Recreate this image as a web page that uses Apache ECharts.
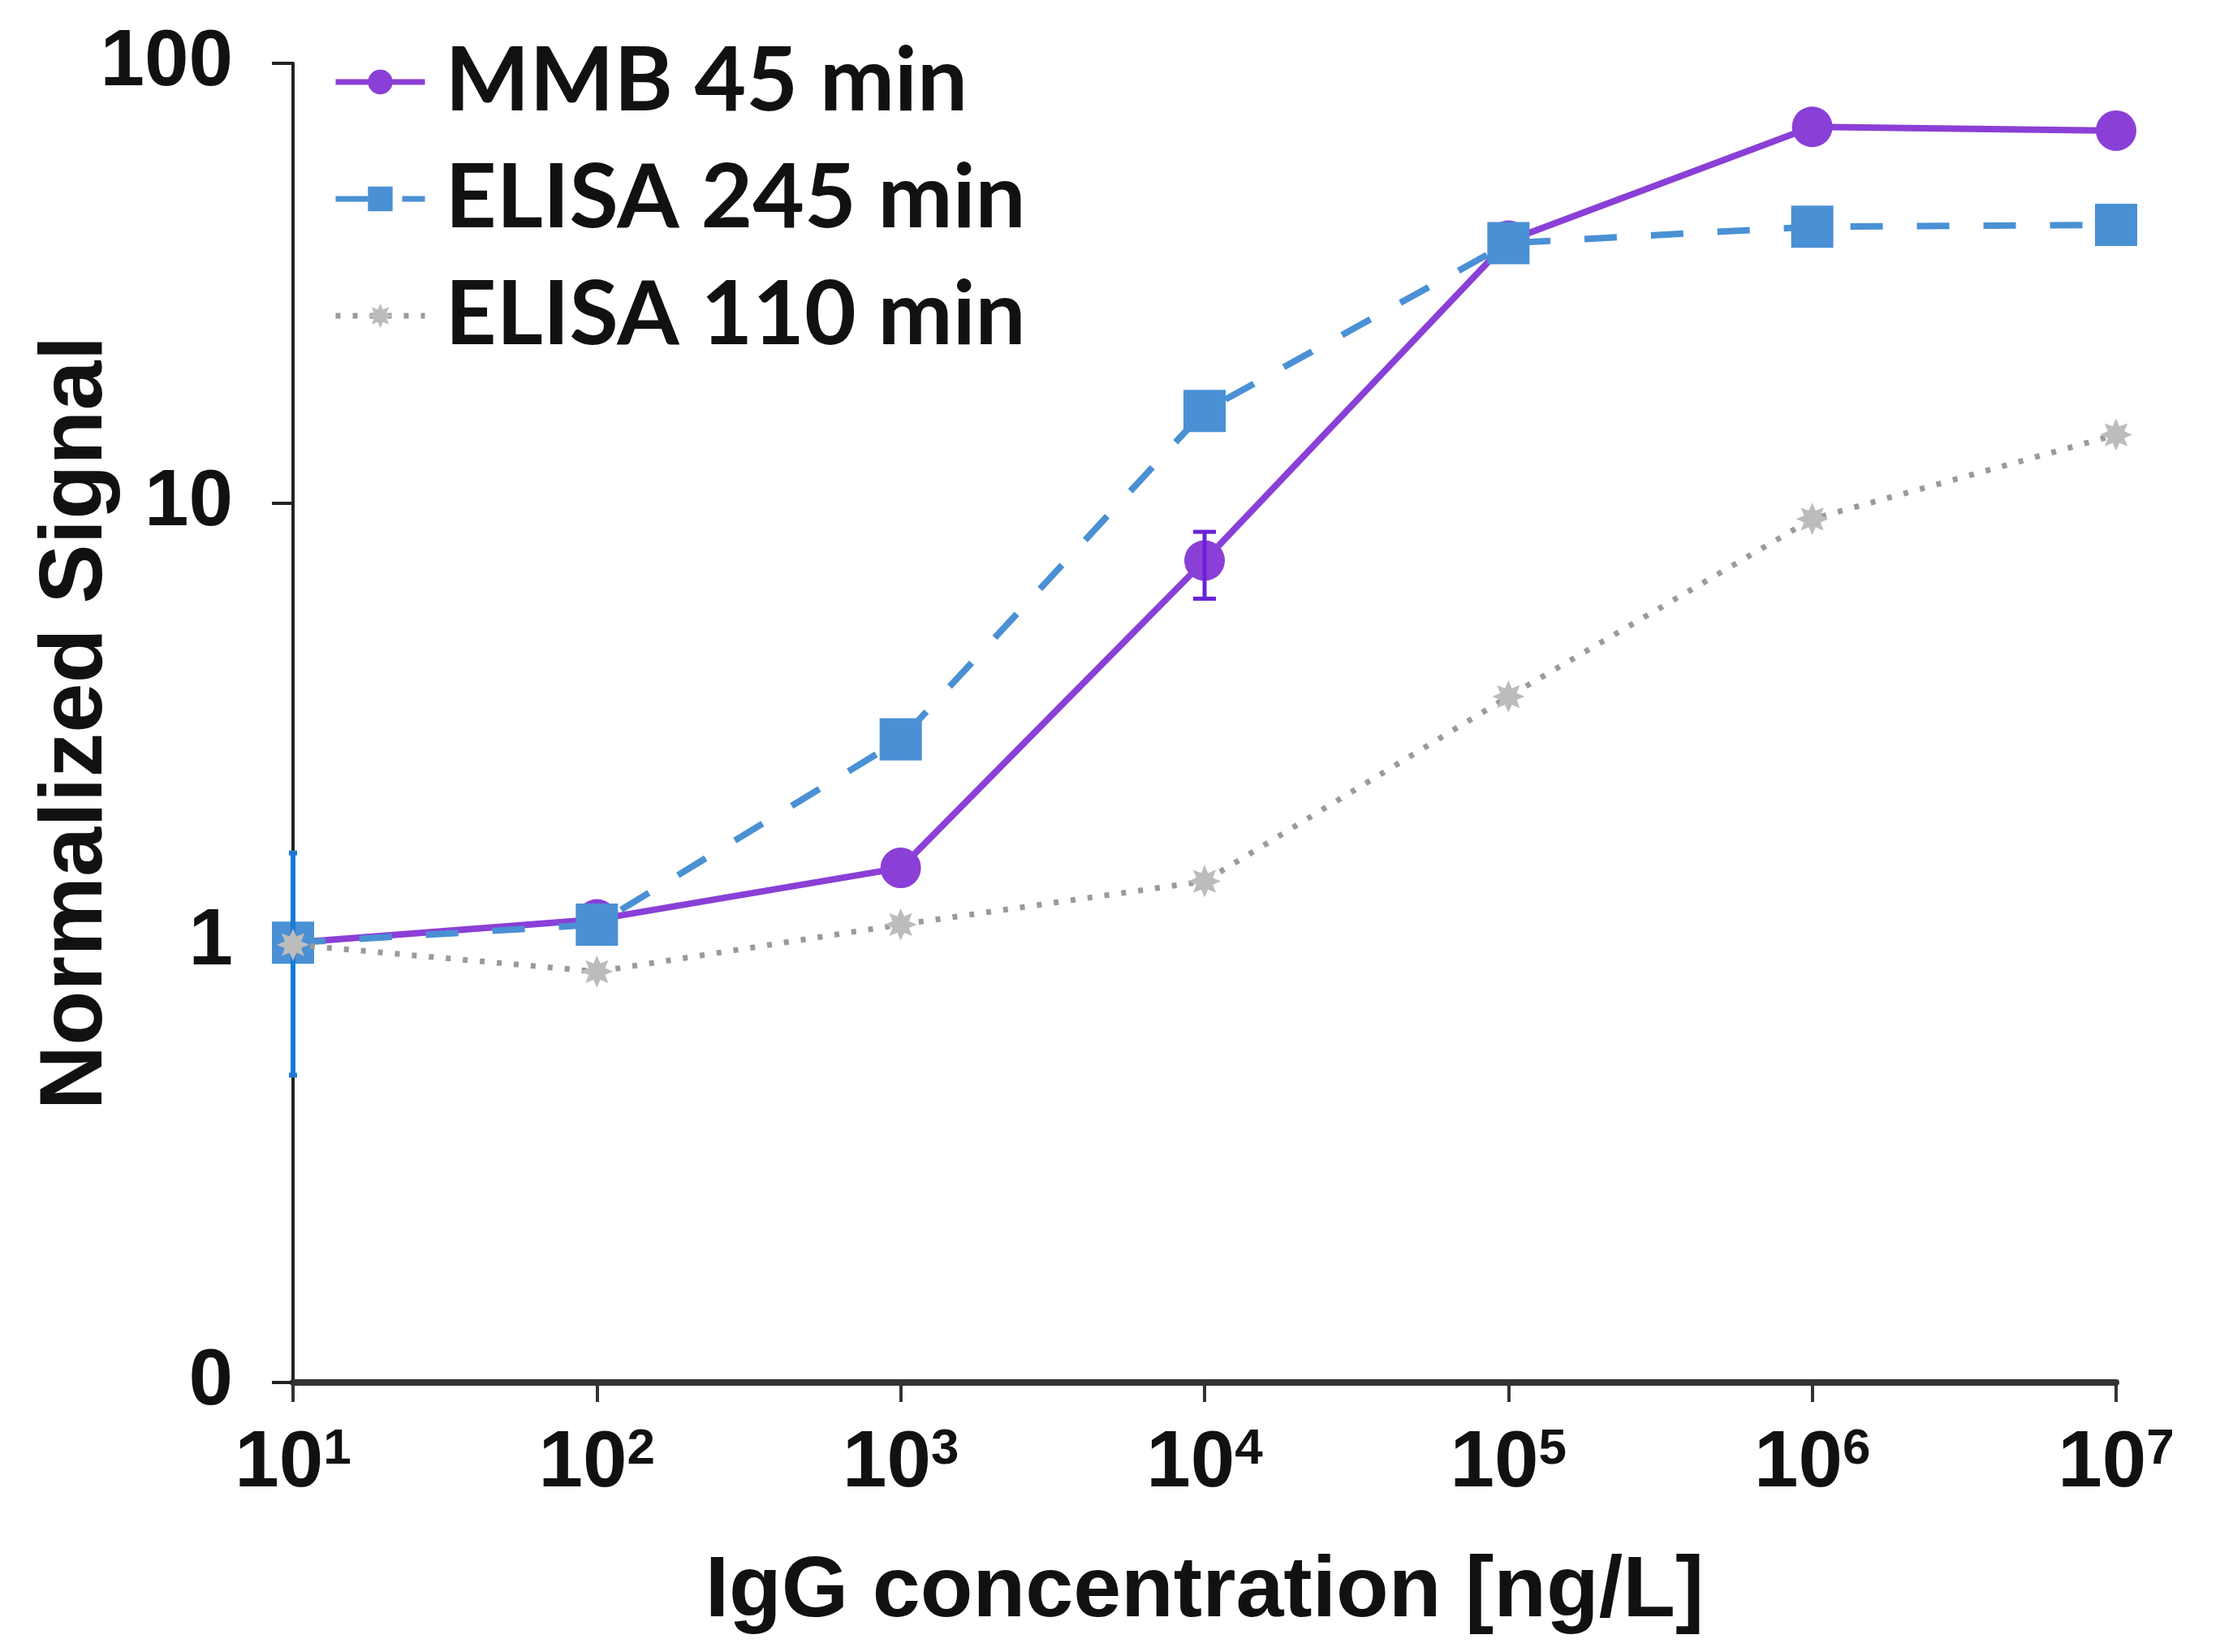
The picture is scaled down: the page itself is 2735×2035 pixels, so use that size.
<!DOCTYPE html>
<html>
<head>
<meta charset="utf-8">
<script src="https://cdn.jsdelivr.net/npm/echarts@6/dist/echarts.min.js"></script>
<style>
  html, body { margin: 0; padding: 0; background: #fff; }
  #chart { width: 2735px; height: 2035px; }
</style>
</head>
<body>
<div id="chart"></div>
<script>
// concentrations, ng/L
var concentrations = [1e1, 1e2, 1e3, 1e4, 1e5, 1e6, 1e7];

// normalized signal per series
var mmb45 = [1.0, 1.13, 1.48, 7.4, 39.5, 71.7, 70.3];
var elisa245 = [1.0, 1.1, 2.9, 16.2, 39.0, 42.5, 42.9];
var elisa110 = [0.99, 0.86, 1.1, 1.38, 3.63, 9.2, 14.3];

// error bars: [x, low, high]
var mmbErr = [[1e4, 6.06, 8.6]];
var elisa245Err = [[1e1, 0.5, 1.6]];

var seriesNames = ['MMB 45 min', 'ELISA 245 min', 'ELISA 110 min'];
var yTickLabels = { '0.1': '0', '1': '1', '10': '10', '100': '100' };

var starPath = 'path://M0,-10 L2.1,-5.08 L7.07,-7.07 L5.08,-2.1 L10,0 L5.08,2.1 L7.07,7.07 L2.1,5.08 L0,10 L-2.1,5.08 L-7.07,7.07 L-5.08,2.1 L-10,0 L-5.08,-2.1 L-7.07,-7.07 L-2.1,-5.08 Z';

function pairs(ys) {
  return concentrations.map(function (x, i) { return [x, ys[i]]; });
}

function errorBarItem(capHalf, width) {
  return function (params, api) {
    var top = api.coord([api.value(0), api.value(2)]);
    var bot = api.coord([api.value(0), api.value(1)]);
    var st = { stroke: api.visual('color'), lineWidth: width };
    return {
      type: 'group',
      children: [
        { type: 'line', shape: { x1: top[0], y1: top[1], x2: bot[0], y2: bot[1] }, style: st },
        { type: 'line', shape: { x1: top[0] - capHalf, y1: top[1], x2: top[0] + capHalf, y2: top[1] }, style: st },
        { type: 'line', shape: { x1: bot[0] - capHalf, y1: bot[1], x2: bot[0] + capHalf, y2: bot[1] }, style: st }
      ]
    };
  };
}

var chart = echarts.init(document.getElementById('chart'));

var option = {
  animation: false,
  backgroundColor: '#fff',
  grid: { left: 361, right: 128, top: 78, bottom: 332, outerBoundsMode: 'none', containLabel: false },
  legend: {
    data: seriesNames,
    orient: 'vertical',
    left: 405,
    top: 34,
    itemWidth: 110,
    itemHeight: 38,
    itemGap: 20,
    lineStyle: { width: 7 },
    textStyle: {
      fontFamily: 'Lato',
      fontWeight: 'bold',
      fontSize: 110,
      color: '#111',
      lineHeight: 124,
      padding: [0, 0, 0, 20]
    }
  },
  xAxis: {
    type: 'log',
    logBase: 10,
    min: 10,
    max: 1e7,
    name: 'IgG concentration [ng/L]',
    nameLocation: 'middle',
    nameGap: 206,
    nameMoveOverlap: false,
    nameTextStyle: { fontFamily: 'Liberation Sans', fontWeight: 'bold', fontSize: 106, color: '#111' },
    axisLine: { lineStyle: { color: '#333', width: 8 } },
    axisTick: { show: true, length: 24, lineStyle: { color: '#333', width: 4 } },
    splitLine: { show: false },
    minorTick: { show: false },
    axisLabel: {
      margin: 52,
      formatter: function (v) {
        var e = Math.round(Math.log10(v));
        return '{b|10}{s|' + e + '}';
      },
      rich: {
        b: { fontFamily: 'Liberation Sans', fontWeight: 'bold', fontSize: 98, color: '#111', lineHeight: 100, verticalAlign: 'top' },
        s: { fontFamily: 'Liberation Sans', fontWeight: 'bold', fontSize: 62, color: '#111', lineHeight: 62, verticalAlign: 'top' }
      }
    }
  },
  yAxis: {
    type: 'log',
    logBase: 10,
    min: 0.1,
    max: 100,
    name: 'Normalized Signal',
    nameLocation: 'middle',
    nameGap: 211,
    nameMoveOverlap: false,
    nameTextStyle: { fontFamily: 'Liberation Sans', fontWeight: 'bold', fontSize: 110, color: '#111' },
    axisLine: { show: true, lineStyle: { color: '#222', width: 4 } },
    axisTick: { show: true, length: 26, lineStyle: { color: '#222', width: 4 } },
    splitLine: { show: false },
    axisLabel: {
      margin: 74,
      fontFamily: 'Liberation Sans',
      fontWeight: 'bold',
      fontSize: 98,
      color: '#111',
      formatter: function (v) {
        var k = String(Math.round(v * 10) / 10);
        return yTickLabels[k] !== undefined ? yTickLabels[k] : '';
      }
    }
  },
  series: [
    {
      name: seriesNames[0],
      type: 'line',
      data: pairs(mmb45),
      clip: false,
      symbol: 'circle',
      symbolSize: 50,
      color: '#8a3fd6',
      lineStyle: { color: '#8a3fd6', width: 8 },
      itemStyle: { color: '#8a3fd6' },
      z: 3
    },
    {
      name: 'mmb-err',
      type: 'custom',
      data: mmbErr,
      color: '#6a22d8',
      encode: { x: 0, y: [1, 2] },
      renderItem: errorBarItem(14, 5),
      clip: false,
      z: 4
    },
    {
      name: seriesNames[1],
      type: 'line',
      data: pairs(elisa245),
      clip: false,
      symbol: 'rect',
      symbolSize: 52,
      color: '#4a90d4',
      lineStyle: { color: '#4a90d4', width: 8, type: [40, 42] },
      itemStyle: { color: '#4a90d4' },
      z: 5
    },
    {
      name: 'elisa245-err',
      type: 'custom',
      data: elisa245Err,
      color: '#1a7ad6',
      encode: { x: 0, y: [1, 2] },
      renderItem: errorBarItem(5, 6),
      clip: false,
      z: 6
    },
    {
      name: seriesNames[2],
      type: 'line',
      data: pairs(elisa110),
      clip: false,
      symbol: starPath,
      symbolSize: 40,
      color: '#b5b5b5',
      lineStyle: { color: '#9a9a9a', width: 7, type: [6, 15] },
      itemStyle: { color: '#bcbcbc' },
      z: 7
    }
  ]
};

chart.setOption(option);
</script>
</body>
</html>
